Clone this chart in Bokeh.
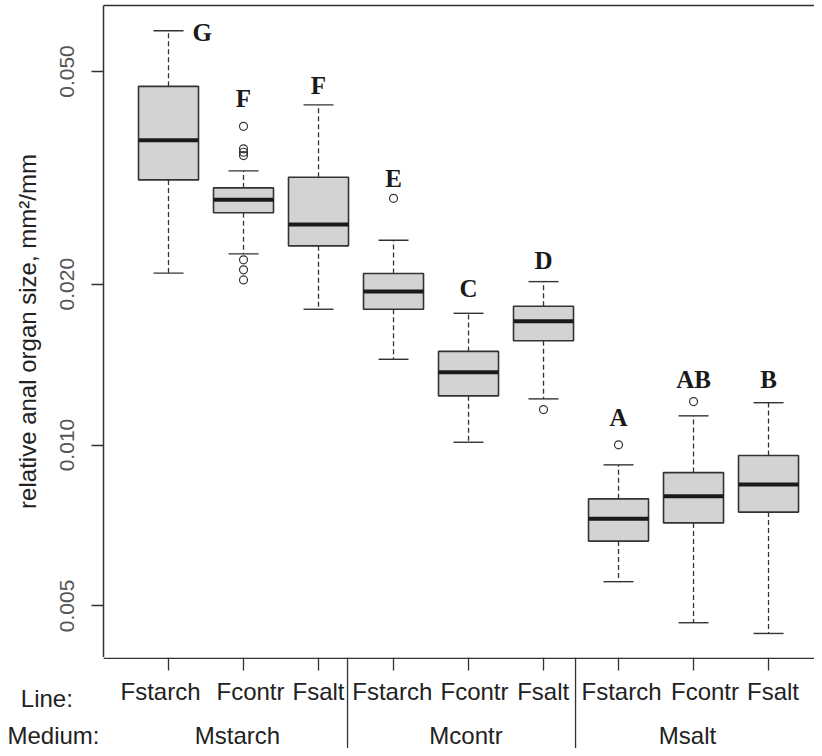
import numpy as np
from bokeh.plotting import figure
from bokeh.layouts import column
from bokeh.models import Range1d, FixedTicker, PrintfTickFormatter, LinearAxis
from bokeh.core.properties import value
from bokeh.embed import file_html
from bokeh.resources import INLINE

# ---- data ----
positions = [1, 2, 3, 4, 5, 6, 7, 8, 9]
line_labels = ["Fstarch", "Fcontr", "Fsalt", "Fstarch", "Fcontr", "Fsalt", "Fstarch", "Fcontr", "Fsalt"]
line_label_x = [0.893, 2.093, 3.0, 3.983, 5.08, 5.996, 7.04, 8.153, 9.06]
medium_labels = ["Mstarch", "Mcontr", "Msalt"]
medium_x = [1.92, 4.967, 7.92]

upper_whisker = [0.0596, 0.03258, 0.04330, 0.02416, 0.01764, 0.02022, 0.00918, 0.01134, 0.01200]
q3 = [0.0469, 0.03028, 0.03170, 0.02094, 0.01497, 0.01818, 0.00793, 0.00888, 0.00956]
median = [0.03717, 0.02876, 0.02586, 0.01937, 0.01368, 0.01705, 0.00728, 0.00802, 0.00844]
q1 = [0.03134, 0.02720, 0.02359, 0.01795, 0.01236, 0.01567, 0.00661, 0.00715, 0.00749]
lower_whisker = [0.02097, 0.02279, 0.01795, 0.01447, 0.01012, 0.01220, 0.00555, 0.00465, 0.00444]

outlier_group = [2, 2, 2, 2, 2, 2, 2, 4, 6, 7, 8]
outlier_value = [0.03948, 0.03583, 0.03531, 0.03481, 0.02221, 0.02127, 0.02037,
                 0.02895, 0.01165, 0.01001, 0.01206]

letters = ["G", "F", "F", "E", "C", "D", "A", "AB", "B"]
letter_x = [1.45, 2, 3, 4, 5, 6, 7, 8, 9]
letter_y = [0.0592, 0.0445, 0.04706, 0.03151, 0.01963, 0.02214, 0.01127, 0.01326, 0.01326]

y_ticks = [0.005, 0.010, 0.020, 0.050]
separators = [3.387, 6.427]

DARK = "#333333"
TXT = "#222222"
SANS = "Liberation Sans"

X_START, X_END = 0.1333, 9.613

# ---------------- main plot ----------------
p = figure(width=814, height=657,
           x_range=Range1d(X_START, X_END), y_range=Range1d(0.004003, 0.06645),
           y_axis_type="log", x_axis_location=None,
           output_backend="svg", toolbar_location=None,
           min_border_left=103, min_border_right=0, min_border_top=5, min_border_bottom=0,
           background_fill_color="white", border_fill_color="white")
p.outline_line_color = None
p.xgrid.visible = False
p.ygrid.visible = False

pos = np.array(positions, dtype=float)
hw = 0.4
cw = 0.2

p.segment(pos, q3, pos, upper_whisker, line_color=DARK, line_width=1.3, line_dash="5 3")
p.segment(pos, q1, pos, lower_whisker, line_color=DARK, line_width=1.3, line_dash="5 3")
p.segment(pos - cw, upper_whisker, pos + cw, upper_whisker, line_color=DARK, line_width=1.4)
p.segment(pos - cw, lower_whisker, pos + cw, lower_whisker, line_color=DARK, line_width=1.4)
p.vbar(x=pos, width=2 * hw, top=q3, bottom=q1, fill_color="#d3d3d3", line_color=DARK, line_width=1.6)
p.segment(pos - hw, median, pos + hw, median, line_color="#1a1a1a", line_width=4)
p.scatter(outlier_group, outlier_value, marker="circle", size=8, fill_color=None,
          line_color=DARK, line_width=1.2)
p.text(letter_x, letter_y, text=letters, text_font=value("Liberation Serif"),
       text_font_style="bold", text_font_size="25px", text_align="center",
       text_baseline="middle", text_color="#1a1a1a")

ya = p.yaxis[0]
ya.ticker = FixedTicker(ticks=y_ticks, minor_ticks=[])
ya.formatter = PrintfTickFormatter(format="%.3f")
ya.major_label_orientation = "vertical"
ya.major_label_text_font = SANS
ya.major_label_text_font_size = "21px"
ya.major_label_text_color = "#555555"
ya.major_label_standoff = 17
ya.major_tick_in = 0
ya.major_tick_out = 12
ya.axis_line_color = DARK
ya.axis_line_width = 1.5
ya.major_tick_line_color = DARK
ya.major_tick_line_width = 1.3
ya.axis_label = "relative anal organ size, mm\u00b2/mm"
ya.axis_label_text_font = SANS
ya.axis_label_text_font_style = "normal"
ya.axis_label_text_font_size = "24px"
ya.axis_label_text_color = TXT
ya.axis_label_standoff = 17

top = LinearAxis(ticker=FixedTicker(ticks=[]), axis_line_color=DARK, axis_line_width=1.5,
                 major_tick_in=0, major_tick_out=0, minor_tick_in=0, minor_tick_out=0,
                 major_label_standoff=0)
p.add_layout(top, "above")

# ---------------- axis strip and label rows below the plot ----------------
# y measured in pixels downwards from the bottom edge of the plot frame
STRIP_H = 91
p2 = figure(width=814, height=STRIP_H,
            x_range=Range1d(X_START, X_END), y_range=Range1d(STRIP_H, 0),
            output_backend="svg", toolbar_location=None, x_axis_location=None,
            min_border_left=103, min_border_right=0, min_border_top=0, min_border_bottom=0,
            background_fill_color="white", border_fill_color="white")
p2.outline_line_color = None
p2.xgrid.visible = False
p2.ygrid.visible = False

# bottom border of the plot box, group ticks and medium separators
p2.segment(X_START, 0.75, X_END, 0.75, line_color=DARK, line_width=1.5)
p2.segment(pos, 0, pos, 13, line_color=DARK, line_width=1.3)
for sx in separators:
    p2.segment(sx, 0, sx, STRIP_H, line_color=DARK, line_width=1.3)

p2.text(line_label_x, [34] * len(line_label_x), text=line_labels, text_font=value(SANS),
        text_font_size="24px", text_align="center", text_baseline="middle", text_color=TXT)
p2.text(medium_x, [78] * 3, text=medium_labels, text_font=value(SANS),
        text_font_size="24px", text_align="center", text_baseline="middle", text_color=TXT)

# row titles as the strip's left-axis labels
ra = p2.yaxis[0]
ra.ticker = FixedTicker(ticks=[40.5, 78], minor_ticks=[])
ra.major_label_overrides = {40.5: "Line:\u00a0\u00a0\u00a0\u00a0", 78: "Medium:"}
ra.major_label_text_font = SANS
ra.major_label_text_font_size = "24px"
ra.major_label_text_color = TXT
ra.major_label_standoff = 4
ra.major_tick_in = 0
ra.major_tick_out = 0
ra.axis_line_color = None

layout = column(p, p2, spacing=0)
open("out.html", "w").write(file_html(layout, INLINE))
